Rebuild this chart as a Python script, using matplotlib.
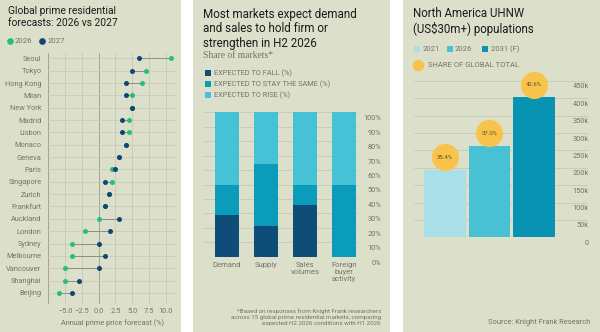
import matplotlib
matplotlib.use("Agg")
import matplotlib.pyplot as plt
from matplotlib.patches import Rectangle
from matplotlib.transforms import ScaledTranslation
from matplotlib.lines import Line2D

# ---------------- data ----------------
cities = ["Seoul", "Tokyo", "Hong Kong", "Milan", "New York", "Madrid", "Lisbon",
          "Monaco", "Geneva", "Paris", "Singapore", "Zurich", "Frankfurt", "Auckland",
          "London", "Sydney", "Melbourne", "Vancouver", "Shanghai", "Beijing"]
f2026 = [10.8, 7.0, 6.5, 5.0, 5.0, 4.5, 4.5, 4.0, 3.0, 2.0, 2.0, 1.5, 1.0, 0.0,
         -2.0, -4.0, -4.0, -5.0, -5.0, -6.0]
f2027 = [6.0, 5.0, 4.0, 4.0, 5.0, 3.5, 3.5, 4.0, 3.0, 2.5, 1.0, 1.5, 1.0, 3.0,
         1.7, 0.0, 1.0, 0.0, -3.0, -4.0]
x_ticks1 = [-5.0, -2.5, 0.0, 2.5, 5.0, 7.5, 10.0]

categories = ["Demand", "Supply", "Sales\nvolumes", "Foreign\nbuyer\nactivity"]
fall = [28.6, 21.4, 35.7, 0.0]
stay = [21.4, 42.9, 14.3, 50.0]
rise = [50.0, 35.7, 50.0, 50.0]
pct_ticks = [0, 10, 20, 30, 40, 50, 60, 70, 80, 90, 100]

years = ["2021", "2026", "2031 (F)"]
uhnw = [194, 263, 403]          # thousands
share = ["35.4%", "37.0%", "42.6%"]
k_ticks = [0, 50, 100, 150, 200, 250, 300, 350, 400, 450]

# ---------------- style ----------------
W, H = 600, 332
BG = "#dcdfca"
GRID = "#c6c9b3"
TXT = "#74756a"
DARK = "#1b1b1b"
GREEN = "#22c07f"
NAVY = "#0f4675"
C_FALL = "#0d4d78"
C_STAY = "#0a9cba"
C_RISE = "#46c2d6"
C21 = "#a9dfe6"
C26 = "#47c1d3"
C31 = "#0993b2"
YEL = "#f8c34a"
TITLE_FONT = "Roboto"

fig = plt.figure(figsize=(W / 100, H / 100), dpi=100, facecolor="white")


def add_ax(x0, y0, x1, y1):
    a = fig.add_axes([x0 / W, 1 - y1 / H, (x1 - x0) / W, (y1 - y0) / H])
    a.set_facecolor("none")
    for s in a.spines.values():
        s.set_visible(False)
    a.tick_params(length=0)
    return a


def ftext(x, y, s, **kw):
    return fig.text(x / W, 1 - y / H, s, **kw)


for x0, x1 in [(0, 181), (193, 390), (403, 600)]:
    fig.patches.append(Rectangle((x0 / W, 0), (x1 - x0) / W, 1, transform=fig.transFigure,
                                 facecolor=BG, edgecolor="none", zorder=-10))

# ================= Panel 1 =================
ftext(8, 6, "Global prime residential\nforecasts: 2026 vs 2027", fontsize=7.4,
      family=TITLE_FONT, color=DARK, va="top", ha="left", linespacing=1.22)
fig.add_artist(Line2D([10 / W], [1 - 40.7 / H], marker="o", markersize=3.8, color=GREEN,
                      transform=fig.transFigure, linestyle="none"))
ftext(15, 40.7, "2026", fontsize=5.6, color=TXT, va="center", ha="left", family=TITLE_FONT)
fig.add_artist(Line2D([42 / W], [1 - 40.7 / H], marker="o", markersize=3.8, color=NAVY,
                      transform=fig.transFigure, linestyle="none"))
ftext(47.5, 40.7, "2027", fontsize=5.6, color=TXT, va="center", ha="left", family=TITLE_FONT)

ax1 = add_ax(48.45, 53.0, 175.75, 304.0)
ypos = list(range(len(cities)))
ax1.set_xlim(-7.5, 11.5)
ax1.set_ylim(19.9, -0.43)
for v in x_ticks1:
    ax1.axvline(v, color="#9c9e8c" if v == 0 else GRID, lw=0.6, zorder=0)
ax1.axvline(-7.5, color="#a3a592", lw=0.7, zorder=0)
for yy in ypos:
    ax1.axhline(yy, color=GRID, lw=0.5, zorder=0)
ax1.hlines(ypos, [min(a, b) for a, b in zip(f2026, f2027)],
           [max(a, b) for a, b in zip(f2026, f2027)], color="#8e8f82", lw=0.7, zorder=2)
ax1.scatter(f2026, ypos, s=13, color=GREEN, zorder=3, linewidths=0)
ax1.scatter(f2027, ypos, s=13, color=NAVY, zorder=4, linewidths=0)
ax1.set_yticks(ypos)
ax1.set_yticklabels(cities, fontsize=5.3, color=TXT, family=TITLE_FONT)
ax1.set_xticks(x_ticks1)
ax1.set_xticklabels([f"{v:.1f}".replace("-", "\u2212") if v < 0 else f"{v:.1f}" for v in x_ticks1],
                    fontsize=5.3, color=TXT, family=TITLE_FONT)
ax1.tick_params(axis="y", pad=5)
ax1.tick_params(axis="x", pad=3)
ax1.set_xlabel("Annual prime price forecast (%)", fontsize=5.3, color=TXT,
               family=TITLE_FONT, labelpad=3)

# ================= Panel 2 =================
ftext(203, 8, "Most markets expect demand\nand sales to hold firm or\nstrengthen in H2 2026",
      fontsize=8.4, family=TITLE_FONT, color=DARK, va="top", ha="left", linespacing=1.14)
ftext(203, 55, "Share of markets*", fontsize=6.9, family="Liberation Serif", color=TXT,
      va="center", ha="left")
leg2 = [("EXPECTED TO FALL (%)", C_FALL), ("EXPECTED TO STAY THE SAME (%)", C_STAY),
        ("EXPECTED TO RISE (%)", C_RISE)]
for i, (lab, c) in enumerate(leg2):
    yc = 73 + i * 11
    fig.patches.append(Rectangle((205 / W, 1 - (yc + 3) / H), 6 / W, 6 / H,
                                 transform=fig.transFigure, facecolor=c, edgecolor="none"))
    ftext(214, yc, lab, fontsize=5.3, color=TXT, va="center", ha="left", family=TITLE_FONT)

ax2 = add_ax(203.3, 112.3, 358.3, 256.7)
xb = list(range(len(categories)))
ax2.set_xlim(-0.608, 3.367)
ax2.set_ylim(0, 100)
for v in pct_ticks:
    ax2.axhline(v, color=GRID, lw=0.6, zorder=0)
bw = 0.615
ax2.bar(xb, fall, bw, color=C_FALL, zorder=2)
ax2.bar(xb, stay, bw, bottom=fall, color=C_STAY, zorder=2)
ax2.bar(xb, rise, bw, bottom=[a + b for a, b in zip(fall, stay)], color=C_RISE, zorder=2)
ax2.set_yticks([])
ax2.set_xticks(xb)
ax2.set_xticklabels(categories, fontsize=5.5, color=TXT, family=TITLE_FONT, linespacing=1.15)
ax2.tick_params(axis="x", pad=4)
for v in pct_ticks:
    ax2.text(1.0, v, f"{v}%",
             transform=ax2.get_yaxis_transform() + ScaledTranslation(23 / 100, -6.5 / 100, fig.dpi_scale_trans),
             fontsize=5.3, color=TXT, ha="right", va="center", family=TITLE_FONT)
ftext(381, 317, "*Based on responses from Knight Frank researchers\n"
      "across 15 global prime residential markets, comparing\n"
      "expected H2 2026 conditions with H1 2026",
      fontsize=4.5, color=TXT, ha="right", va="center", family=TITLE_FONT,
      linespacing=1.3, multialignment="right")

# ================= Panel 3 =================
ftext(413, 7, "North America UHNW\n(US$30m+) populations", fontsize=8.3, family=TITLE_FONT,
      color=DARK, va="top", ha="left", linespacing=1.14)
for (lab, c, xs, xt) in [(years[0], C21, 414, 423), (years[1], C26, 447, 455),
                          (years[2], C31, 482, 491)]:
    fig.patches.append(Rectangle((xs / W, 1 - 52 / H), 6 / W, 6 / H,
                                 transform=fig.transFigure, facecolor=c, edgecolor="none"))
    ftext(xt, 49, lab, fontsize=5.5, color=TXT, va="center", ha="left", family=TITLE_FONT)
fig.add_artist(Line2D([418 / W], [1 - 65 / H], marker="o", markersize=7.3, color=YEL,
                      transform=fig.transFigure, linestyle="none"))
ftext(428, 65, "SHARE OF GLOBAL TOTAL", fontsize=5.5, color=TXT, va="center", ha="left",
      family=TITLE_FONT)

ax3 = add_ax(414, 81, 588.3, 237.3)
xc = list(range(len(years)))
ax3.set_xlim(-0.704, 3.23)
ax3.set_ylim(0, 450)
for v in k_ticks:
    ax3.axhline(v, color=GRID, lw=0.6, zorder=0)
ax3.bar(xc, uhnw, 0.937, color=[C21, C26, C31], zorder=2)
ax3.set_xticks([])
ax3.set_yticks([])
for v in k_ticks:
    ax3.text(1.0, v, "0" if v == 0 else f"{v}k",
             transform=ax3.get_yaxis_transform() + ScaledTranslation(0.5 / 100, -6 / 100, fig.dpi_scale_trans),
             fontsize=5.3, color=TXT, ha="right", va="center", family=TITLE_FONT)
circ_tr = ax3.transData + ScaledTranslation(0, 12.5 / 100, fig.dpi_scale_trans)
for x, v, s in zip(xc, uhnw, share):
    ax3.plot([x], [v], marker="o", markersize=18.5, color=YEL, transform=circ_tr,
             clip_on=False, zorder=3, linestyle="none")
    ax3.annotate(s, (x, v), xytext=(0, 9), textcoords="offset points", ha="center",
                 va="center", fontsize=4.3, color="#5a5030", family=TITLE_FONT, zorder=4,
                 annotation_clip=False)
ftext(590, 322.7, "Source: Knight Frank Research", fontsize=5.4, color=TXT, ha="right",
      va="center", family=TITLE_FONT)

fig.savefig("out.png", dpi=100, facecolor="white")
